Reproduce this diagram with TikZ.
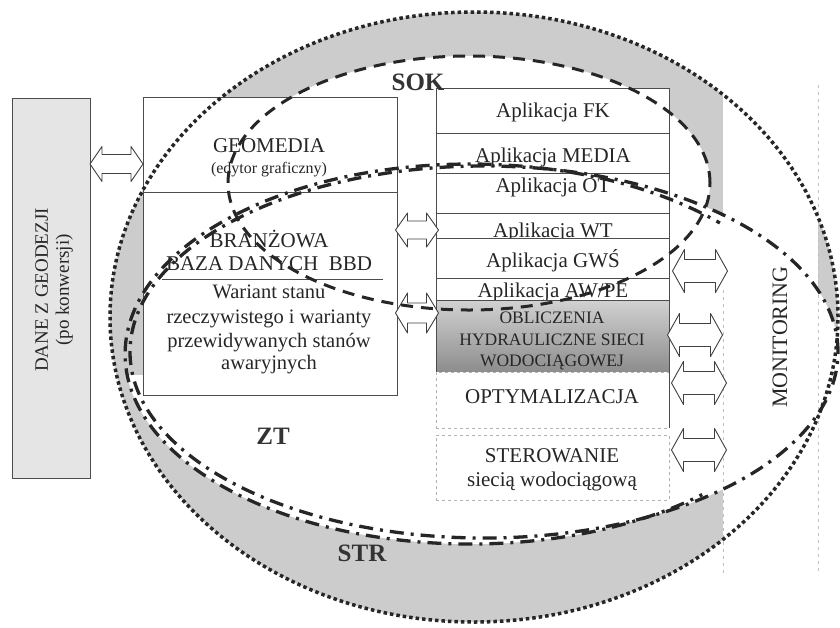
\documentclass[tikz,border=0pt]{standalone}
\usepackage{fontspec}
\setmainfont{Liberation Serif}
\definecolor{shadecol}{gray}{0.80}
\definecolor{linecol}{gray}{0.15}
\tikzset{
  arrowst/.style={draw=black!75, line width=0.9pt, fill=white, line join=round},
  pics/dblarr/.style n args={3}{code={
    \draw[arrowst] ({-(#1)/2},0) -- ({-(#1)/2+12},{(#2)/2}) -- ({-(#1)/2+12},{(#3)/2})
      -- ({(#1)/2-12},{(#3)/2}) -- ({(#1)/2-12},{(#2)/2}) -- ({(#1)/2},0)
      -- ({(#1)/2-12},{-(#2)/2}) -- ({(#1)/2-12},{-(#3)/2}) -- ({-(#1)/2+12},{-(#3)/2})
      -- ({-(#1)/2+12},{-(#2)/2}) -- cycle;
  }}
}
\begin{document}
\begin{tikzpicture}[x=1pt,y=-1pt,
  boxst/.style={draw=black!70, line width=0.9pt, fill=white, inner sep=0pt, anchor=north west},
  faintbox/.style={draw=black!30, line width=0.6pt, dash pattern=on 3pt off 3pt, fill=white, inner sep=0pt, anchor=north west},
  faintline/.style={draw=black!25, line width=0.6pt, dash pattern=on 3pt off 4pt},
  txt/.style={font=\fontsize{21}{24}\selectfont, inner sep=0pt, anchor=base, text=black!85},
  smalltxt/.style={font=\fontsize{16}{18}\selectfont, inner sep=0pt, anchor=base, text=black!85},
  captxt/.style={font=\fontsize{17.5}{20}\selectfont, inner sep=0pt, anchor=base, text=black!85},
  boldlbl/.style={font=\fontsize{25}{28}\selectfont\bfseries, inner sep=0pt, text=black!80},
  sokline/.style={draw=linecol, line width=3pt, dash pattern=on 12pt off 8pt},
  ztline/.style={draw=linecol, line width=3.3pt, dash pattern=on 14pt off 7pt on 3pt off 7pt},
  strline/.style={draw=linecol, line width=3.5pt, dash pattern=on 3.5pt off 3pt}
]
\useasboundingbox (0,0) rectangle (840,627);

% shaded background ring
\begin{scope}
  \clip (474,317) ellipse [x radius=364pt, y radius=305pt];
  \fill[shadecol] (0,0) rectangle (840,627);
  \fill[white] (469,183) ellipse [x radius=241pt, y radius=127pt];
  \fill[white] (484,352) ellipse [x radius=354pt, y radius=186pt];
  \fill[white] (470,354) ellipse [x radius=345pt, y radius=190pt];
  \fill[white] (723,0) rectangle (818,627);
  \fill[white] (143,97) rectangle (397,395);
  \fill[white] (436,88) rectangle (669,500);
  \fill[shadecol] (100,0) rectangle (143,375);
\end{scope}

% faint frame lines
\coordinate (f1a) at (818,85); \coordinate (f1b) at (818,575);
\coordinate (f2a) at (723,290); \coordinate (f2b) at (723,575);
\draw[faintline] (f1a) -- (f1b);
\draw[faintline] (f2a) -- (f2b);

% DANE Z GEODEZJI
\node[boxst, fill=black!10, minimum width=78pt, minimum height=380pt] (dane) at (12,98) {};
\node[font=\fontsize{19}{21}\selectfont, align=center, rotate=90, inner sep=0pt, text=black!85] (danet) at (54,290) {DANE Z GEODEZJI\\(po konwersji)};

% left boxes
\node[boxst, minimum width=254pt, minimum height=95pt] (geo) at (143,97) {};
\node[txt] (geot) at (269,152) {GEOMEDIA};
\node[smalltxt] (geos) at (269,173) {(edytor graficzny)};
\node[boxst, minimum width=254pt, minimum height=203pt] (bbd) at (143,192) {};
\node[txt] (bbd1) at (269,247) {BRANŻOWA};
\node[txt] (bbd2) at (269,270) {BAZA DANYCH\ \ BBD};
\coordinate (ula) at (162,279); \coordinate (ulb) at (383,279);
\draw[black!70, line width=0.9pt] (ula) -- (ulb);
\node[txt, font=\fontsize{20.5}{24}\selectfont] (w1) at (269,298) {Wariant stanu};
\node[txt, font=\fontsize{20.5}{24}\selectfont] (w2) at (269,323) {rzeczywistego i warianty};
\node[txt, font=\fontsize{20.5}{24}\selectfont] (w3) at (269,347) {przewidywanych stanów};
\node[txt, font=\fontsize{20.5}{24}\selectfont] (w4) at (269,369) {awaryjnych};

% right column
\node[boxst, minimum width=233pt, minimum height=45pt] (fk) at (436,88) {};
\node[txt] (fkt) at (553,117) {Aplikacja FK};
\node[boxst, minimum width=233pt, minimum height=40pt] (media) at (436,133) {};
\node[txt] (mediat) at (553,162) {Aplikacja MEDIA};
\node[boxst, minimum width=233pt, minimum height=40pt] (ot) at (436,173) {};
\node[txt] (ott) at (553,192) {Aplikacja OT};
\node[boxst, minimum width=233pt, minimum height=25pt] (wt) at (436,213) {};
\node[txt] (wtt) at (553,237) {Aplikacja WT};
\node[boxst, minimum width=233pt, minimum height=40pt] (gws) at (436,238) {};
\node[txt] (gwst) at (553,267) {Aplikacja GWŚ};
\node[boxst, minimum width=233pt, minimum height=22pt] (awpe) at (436,278) {};
\node[txt] (awpet) at (553,297) {Aplikacja AW/PE};
\node[draw=black!70, line width=0.9pt, inner sep=0pt, anchor=north west, top color=black!18, bottom color=black!45, minimum width=233pt, minimum height=72pt] (obl) at (436,300) {};
\node[captxt] (obl1) at (552,323) {OBLICZENIA};
\node[captxt] (obl2) at (552,345) {HYDRAULICZNE SIECI};
\node[captxt] (obl3) at (552,366) {WODOCIĄGOWEJ};
\node[faintbox, minimum width=233pt, minimum height=56pt] (opt) at (436,372) {};
\coordinate (opta) at (669,372); \coordinate (optb) at (669,428);
\draw[black!70, line width=0.9pt] (opta) -- (optb);
\node[txt] (optt) at (552,403) {OPTYMALIZACJA};
\node[faintbox, minimum width=233pt, minimum height=65pt] (ster) at (436,435) {};
\node[txt] (ster1) at (552,462) {STEROWANIE};
\node[txt] (ster2) at (552,486) {siecią wodociągową};

% double arrows
\coordinate (a0) at (116.5,164); \pic at (a0) {dblarr={53}{35}{19}};
\coordinate (a1) at (417,230);   \pic at (a1) {dblarr={43}{34}{18}};
\coordinate (a2) at (417,313);   \pic at (a2) {dblarr={43}{40}{20}};
\coordinate (r1) at (700,271);   \pic at (r1) {dblarr={55}{43}{23}};
\coordinate (r2) at (695,335);   \pic at (r2) {dblarr={55}{43}{23}};
\coordinate (r3) at (699,383);   \pic at (r3) {dblarr={55}{43}{23}};
\coordinate (r4) at (699,450);   \pic at (r4) {dblarr={55}{43}{23}};

% region outlines
\draw[sokline] (469,183) ellipse [x radius=241pt, y radius=127pt];
\draw[ztline] (484,352) ellipse [x radius=354pt, y radius=186pt];
\draw[ztline, dash phase=10pt] (719.9,223) arc[start angle=43.6, end angle=312.3, x radius=345pt, y radius=190pt];
\draw[strline] (474,317) ellipse [x radius=364pt, y radius=305pt];

% labels
\node[boldlbl] (sok) at (418,82) {SOK};
\node[boldlbl] (zt) at (273,436) {ZT};
\node[boldlbl] (str) at (362,553) {STR};
\node[font=\fontsize{22}{24}\selectfont, rotate=90, inner sep=0pt, text=black!85] (mon) at (780,337) {MONITORING};
\end{tikzpicture}
\end{document}
